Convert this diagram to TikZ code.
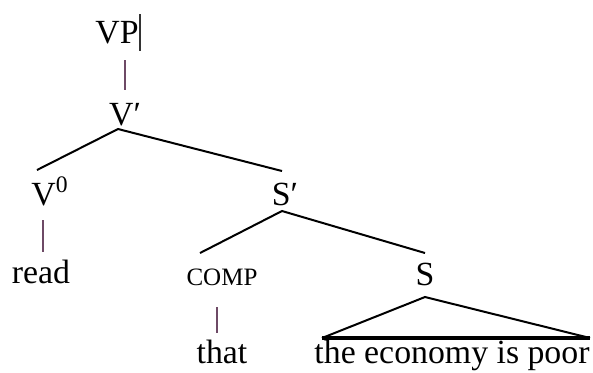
\documentclass[tikz,border=0pt]{standalone}
\usepackage{fontspec}
\setmainfont{Liberation Serif}
\usepackage{tikz}
\definecolor{barcol}{HTML}{6E4A66}
\tikzset{
  lab/.style={anchor=base, inner sep=0pt, font=\fontsize{16.9}{20}\selectfont},
  smalllab/.style={lab, font=\fontsize{12.5}{15}\selectfont},
  branch/.style={draw=black, line width=1pt},
  bar/.style={draw=barcol, line width=0.6pt},
  base/.style={draw=black, line width=1.6pt}}
\begin{document}
\begin{tikzpicture}[x=0.5pt, y=-0.5pt]
  \useasboundingbox (0,0) rectangle (593,372);
  % labels
  \node[lab] (vp) at (117,43) {VP};
  \node[lab] (vbar) at (125,125) {V′};
  \node[lab] (vzero) at (50,205) {V\textsuperscript{0}};
  \node[lab] (read) at (41,283) {read};
  \node[lab] (sbar) at (285,205) {S′};
  \node[smalllab] (comp) at (222,285) {COMP};
  \node[lab] (s) at (425,285) {S};
  \node[lab] (that) at (222,363) {that};
  \node[lab] (clause) at (452,363) {the economy is poor};
  % branch points
  \coordinate (cur-t) at (140,14);
  \coordinate (cur-b) at (140,51);
  \coordinate (vp-b) at (125,60);
  \coordinate (vbar-t) at (125,90);
  \coordinate (vbar-b) at (118,129);
  \coordinate (vzero-t) at (37,170);
  \coordinate (sbar-t) at (282,171);
  \coordinate (vzero-b) at (43,220);
  \coordinate (read-t) at (43,252);
  \coordinate (sbar-b) at (282,211);
  \coordinate (comp-t) at (200,253);
  \coordinate (s-t) at (425,253);
  \coordinate (comp-b) at (217,307);
  \coordinate (that-t) at (217,333);
  \coordinate (s-b) at (425,297);
  \coordinate (cl-l) at (322,338);
  \coordinate (cl-r) at (590,338);
  % lines
  \draw[draw=black!80, line width=0.7pt] (cur-t) -- (cur-b);
  \draw[bar] (vp-b) -- (vbar-t);
  \draw[branch] (vzero-t) -- (vbar-b) -- (sbar-t);
  \draw[bar] (vzero-b) -- (read-t);
  \draw[branch] (comp-t) -- (sbar-b) -- (s-t);
  \draw[bar] (comp-b) -- (that-t);
  \draw[branch] (cl-l) -- (s-b) -- (cl-r);
  \draw[base] (cl-l) -- (cl-r);
\end{tikzpicture}
\end{document}
